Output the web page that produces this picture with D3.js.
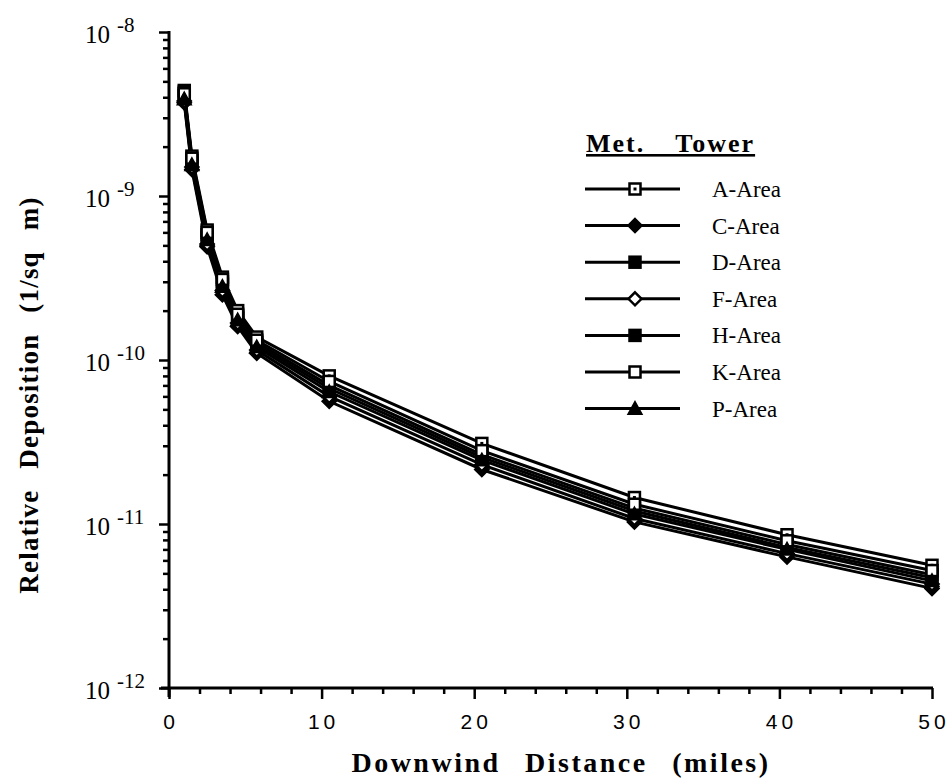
<!doctype html>
<html>
<head>
<style>
  body { margin: 0; background: #fff; }
  text { fill: #000; }
  .serif { font-family: "Liberation Serif", "Times New Roman", serif; }
  .sans { font-family: "Liberation Sans", Arial, sans-serif; }
</style>
<script src="https://d3js.org/d3.v7.min.js"></script>
</head>
<body>
<svg width="951" height="782"></svg>
<script>
// distances (miles)
var distances = [1, 1.5, 2.5, 3.5, 4.5, 5.75, 10.5, 20.5, 30.5, 40.5, 50];

var seriesNames = ["A-Area", "C-Area", "D-Area", "F-Area", "H-Area", "K-Area", "P-Area"];

var aArea = [4.4e-9, 1.75e-9, 6.2e-10, 3.2e-10, 2.0e-10, 1.38e-10, 8.0e-11, 3.1e-11, 1.45e-11, 8.6e-12, 5.6e-12];
var cArea = [3.7e-9, 1.45e-9, 4.9e-10, 2.5e-10, 1.6e-10, 1.1e-10, 5.6e-11, 2.15e-11, 1.03e-11, 6.3e-12, 4.05e-12];
var dArea = [4.3e-9, 1.65e-9, 5.8e-10, 3.0e-10, 1.85e-10, 1.28e-10, 7.0e-11, 2.65e-11, 1.25e-11, 7.5e-12, 4.9e-12];
var fArea = [3.8e-9, 1.5e-9, 5.1e-10, 2.65e-10, 1.68e-10, 1.15e-10, 6.0e-11, 2.3e-11, 1.08e-11, 6.6e-12, 4.3e-12];
var hArea = [4.1e-9, 1.6e-9, 5.6e-10, 2.9e-10, 1.8e-10, 1.24e-10, 6.7e-11, 2.55e-11, 1.2e-11, 7.2e-12, 4.7e-12];
var kArea = [4.2e-9, 1.7e-9, 6.0e-10, 3.1e-10, 1.9e-10, 1.32e-10, 7.4e-11, 2.8e-11, 1.32e-11, 7.9e-12, 5.2e-12];
var pArea = [3.9e-9, 1.55e-9, 5.4e-10, 2.8e-10, 1.75e-10, 1.2e-10, 6.4e-11, 2.45e-11, 1.15e-11, 7.0e-12, 4.5e-12];

var seriesValues = [aArea, cArea, dArea, fArea, hArea, kArea, pArea];
var markerTypes = ["squareDot", "diamond", "square", "diamondOpen", "square", "squareOpen", "triangle"];

var xTicks = [0, 10, 20, 30, 40, 50];
var yExponents = [-8, -9, -10, -11, -12];

var svg = d3.select("svg");
var mLeft = 169, mRight = 932, mTop = 32, mBottom = 688;

var x = d3.scaleLinear().domain([0, 50]).range([mLeft, mRight]);
var y = d3.scaleLog().domain([1e-12, 1e-8]).range([mBottom, mTop]);

// x axis
var minorX = d3.range(0, 51, 2).filter(function(d) { return d % 10 != 0; });
svg.append("g")
   .attr("transform", "translate(0," + mBottom + ")")
   .call(d3.axisBottom(x).tickValues(minorX).tickSize(6).tickFormat(""))
   .call(function(g) { g.select(".domain").remove(); })
   .selectAll("line").attr("stroke", "#000").attr("stroke-width", 2.5);
svg.append("g")
   .attr("transform", "translate(0," + mBottom + ")")
   .call(d3.axisBottom(x).tickValues(xTicks).tickSize(11).tickFormat(""))
   .call(function(g) { g.select(".domain").remove(); })
   .selectAll("line").attr("stroke", "#000").attr("stroke-width", 2.5);
svg.append("line")
   .attr("x1", mLeft - 8).attr("x2", mRight + 1)
   .attr("y1", mBottom).attr("y2", mBottom)
   .attr("stroke", "#000").attr("stroke-width", 3);

svg.selectAll(".xlab")
   .data(xTicks)
   .enter().append("text")
   .attr("class", "xlab sans")
   .attr("x", function(d) { return x(d) + 2; })
   .attr("y", 729)
   .attr("text-anchor", "middle")
   .attr("font-size", "21px")
   .attr("letter-spacing", "4px")
   .text(function(d) { return d; });

// y axis
var minorY = [];
for (var e = -12; e < -8; e++) {
    for (var m = 2; m <= 9; m++) minorY.push(m * Math.pow(10, e));
}
var majorY = yExponents.map(function(e) { return Math.pow(10, e); });
svg.append("g")
   .attr("transform", "translate(" + mLeft + ",0)")
   .call(d3.axisLeft(y).tickValues(minorY).tickSize(6).tickFormat(""))
   .call(function(g) { g.select(".domain").remove(); })
   .selectAll("line").attr("stroke", "#000").attr("stroke-width", 2.5);
svg.append("g")
   .attr("transform", "translate(" + mLeft + ",0)")
   .call(d3.axisLeft(y).tickValues(majorY).tickSize(10).tickFormat(""))
   .call(function(g) { g.select(".domain").remove(); })
   .selectAll("line").attr("stroke", "#000").attr("stroke-width", 2.5);
svg.append("line")
   .attr("x1", mLeft).attr("x2", mLeft)
   .attr("y1", mTop - 1).attr("y2", mBottom + 9)
   .attr("stroke", "#000").attr("stroke-width", 3);

var ylab = svg.selectAll(".ylab")
   .data(yExponents)
   .enter().append("text")
   .attr("class", "ylab serif")
   .attr("x", 85)
   .attr("y", function(d) { return y(Math.pow(10, d)) + 11; });
ylab.append("tspan").attr("font-size", "25px").text("10");
ylab.append("tspan").attr("font-size", "21px").attr("dx", 7).attr("dy", -11)
    .text(function(d) { return String(d); });

// axis titles
svg.append("text")
   .attr("class", "serif")
   .attr("x", 561).attr("y", 772)
   .attr("text-anchor", "middle")
   .attr("font-size", "28px").attr("font-weight", "bold")
   .attr("letter-spacing", "2.5px")
   .attr("word-spacing", "15px")
   .text("Downwind Distance (miles)");
svg.append("text")
   .attr("class", "serif")
   .attr("transform", "translate(38,395) rotate(-90)")
   .attr("text-anchor", "middle")
   .attr("font-size", "27px").attr("font-weight", "bold")
   .attr("letter-spacing", "1.2px")
   .attr("word-spacing", "13px")
   .text("Relative Deposition (1/sq m)");

// markers
function drawMarker(g, type, cx, cy) {
    var s = 11;
    if (type == "square" || type == "squareOpen" || type == "squareDot") {
        g.append("rect")
         .attr("x", cx - s / 2).attr("y", cy - s / 2)
         .attr("width", s).attr("height", s)
         .attr("fill", type == "square" ? "#000" : "#fff")
         .attr("stroke", "#000").attr("stroke-width", 2.5);
        if (type == "squareDot") {
            g.append("rect").attr("x", cx - 1.5).attr("y", cy - 1.5)
             .attr("width", 3).attr("height", 3).attr("fill", "#000");
        }
    } else if (type == "diamond" || type == "diamondOpen") {
        var r = 6.5;
        g.append("path")
         .attr("d", "M" + cx + "," + (cy - r) + "L" + (cx + r) + "," + cy + "L" + cx + "," + (cy + r) + "L" + (cx - r) + "," + cy + "Z")
         .attr("fill", type == "diamond" ? "#000" : "#fff")
         .attr("stroke", "#000").attr("stroke-width", 2.5);
    } else if (type == "triangle") {
        var t = 7;
        g.append("path")
         .attr("d", "M" + cx + "," + (cy - t) + "L" + (cx + t) + "," + (cy + t * 0.8) + "L" + (cx - t) + "," + (cy + t * 0.8) + "Z")
         .attr("fill", "#000").attr("stroke", "#000").attr("stroke-width", 1.5);
    }
}

var line = d3.line()
    .x(function(d) { return x(d[0]); })
    .y(function(d) { return y(d[1]); });

var plot = svg.append("g");
seriesValues.forEach(function(vals, i) {
    var pts = distances.map(function(d, j) { return [d, vals[j]]; });
    plot.append("path")
        .datum(pts)
        .attr("d", line)
        .attr("fill", "none")
        .attr("stroke", "#000")
        .attr("stroke-width", 3);
});
seriesValues.forEach(function(vals, i) {
    distances.forEach(function(d, j) {
        drawMarker(plot, markerTypes[i], x(d), y(vals[j]));
    });
});

// legend
var lg = svg.append("g");
lg.append("text")
  .attr("class", "serif")
  .attr("x", 586).attr("y", 152)
  .attr("font-size", "26px").attr("font-weight", "bold")
  .attr("letter-spacing", "2px")
  .attr("word-spacing", "22px")
  .attr("text-decoration", "underline")
  .text("Met. Tower");
seriesNames.forEach(function(name, i) {
    var ly = 189 + i * 36.6;
    lg.append("line")
      .attr("x1", 585).attr("x2", 680)
      .attr("y1", ly).attr("y2", ly)
      .attr("stroke", "#000").attr("stroke-width", 3);
    drawMarker(lg, markerTypes[i], 635, ly);
    lg.append("text")
      .attr("class", "serif")
      .attr("x", 712).attr("y", ly + 8)
      .attr("font-size", "23px")
      .text(name);
});
</script>
</body>
</html>
